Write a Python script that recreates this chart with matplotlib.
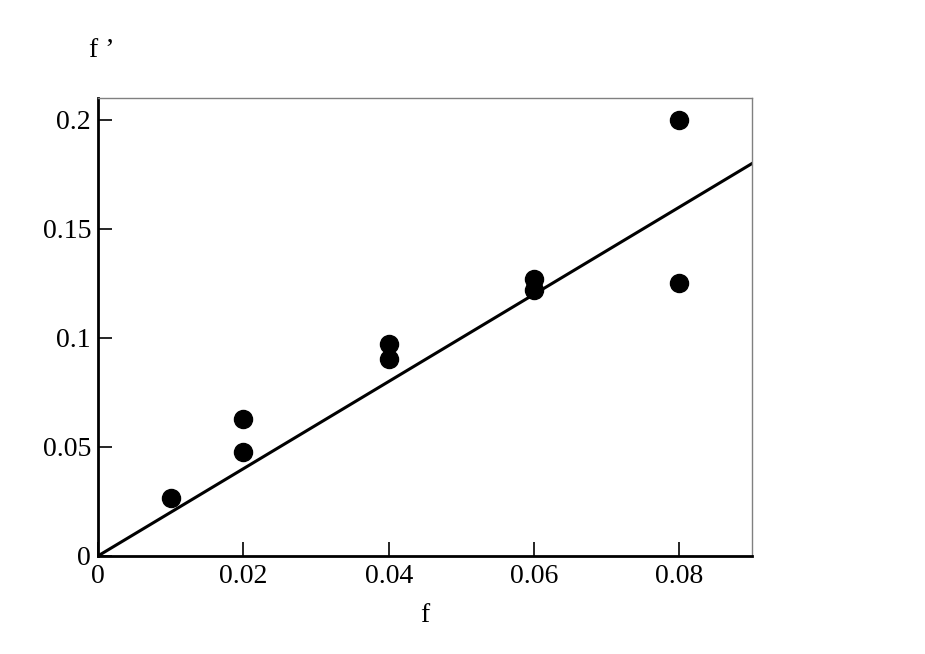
import matplotlib
matplotlib.use("Agg")
import matplotlib.pyplot as plt

# measured points
f = [0.01, 0.02, 0.02, 0.04, 0.04, 0.06, 0.06, 0.08, 0.08]
f_prime = [0.0266, 0.0628, 0.0477, 0.0972, 0.0904, 0.127, 0.122, 0.200, 0.125]

# fit line f' = 2 f
line_x = [0.0, 0.09]
slope = 2.0

plt.rcParams['font.family'] = ['Liberation Serif', 'DejaVu Serif']

fig = plt.figure(figsize=(9.25, 6.54), dpi=100)
ax = fig.add_axes([0.106, 0.150, 0.707, 0.700])

ax.plot(line_x, [slope * v for v in line_x], color='black', lw=2.2)
ax.plot(f, f_prime, 'o', color='black', markersize=13)

ax.set_xlim(0, 0.09)
ax.set_ylim(0, 0.21)
ax.set_xticks([0, 0.02, 0.04, 0.06, 0.08])
ax.set_xticklabels(['0', '0.02', '0.04', '0.06', '0.08'])
ax.set_yticks([0, 0.05, 0.1, 0.15, 0.2])
ax.set_yticklabels(['0', '0.05', '0.1', '0.15', '0.2'])
ax.tick_params(direction='in', length=10, width=1.2, labelsize=20)
ax.tick_params(axis='y', pad=5)
ax.tick_params(axis='x', pad=6)

for s in ['left', 'bottom']:
    ax.spines[s].set_linewidth(2)
    ax.spines[s].set_color('black')
for s in ['top', 'right']:
    ax.spines[s].set_linewidth(1)
    ax.spines[s].set_color('#808080')

ax.set_xlabel('f', fontsize=20, labelpad=10)
fig.text(0.110, 0.923, "f \u2019", fontsize=20, ha='center', va='center')

fig.savefig('out.png', dpi=100)
